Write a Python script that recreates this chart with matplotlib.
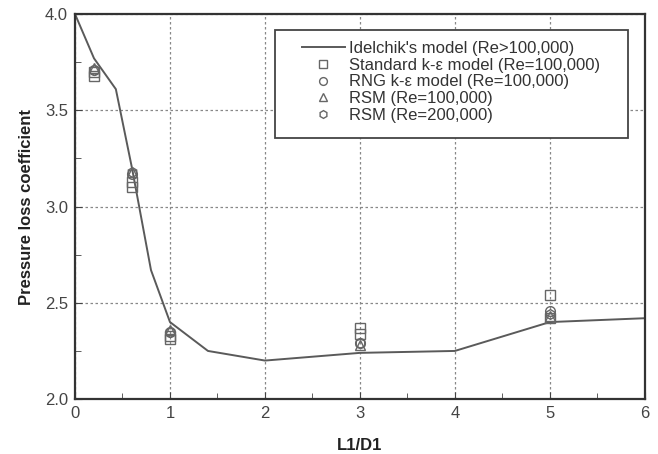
import matplotlib
matplotlib.use('Agg')
import matplotlib.pyplot as plt
from matplotlib.patches import Rectangle
import numpy as np

plt.rcParams['font.family'] = ['Liberation Sans', 'DejaVu Sans']

# Idelchik's model curve
model_x = [0, 0.2, 0.43, 0.6, 0.8, 1.0, 1.4, 2.0, 3.0, 4.0, 5.0, 6.0]
model_y = [4.0, 3.77, 3.61, 3.2, 2.67, 2.4, 2.25, 2.2, 2.24, 2.25, 2.4, 2.42]

# CFD results
std_x = [0.2, 0.2, 0.6, 0.6, 1.0, 1.0, 3.0, 3.0, 5.0, 5.0]
std_y = [3.68, 3.70, 3.10, 3.13, 2.31, 2.33, 2.34, 2.37, 2.54, 2.42]
rng_x = [0.2, 0.6, 1.0, 3.0, 5.0]
rng_y = [3.71, 3.17, 2.35, 2.29, 2.46]
rsm1_x = [0.2, 0.6, 1.0, 3.0, 5.0]
rsm1_y = [3.72, 3.18, 2.36, 2.28, 2.43]
rsm2_x = [0.2, 0.6, 1.0, 3.0, 5.0]
rsm2_y = [3.71, 3.18, 2.35, 2.29, 2.44]

fig = plt.figure(figsize=(6.58, 4.54), dpi=100)
ax = fig.add_axes([0.114, 0.121, 0.866, 0.848])

ax.plot(model_x, model_y, color='#5a5a5a', lw=1.4, label="Idelchik's model (Re>100,000)")
mk = dict(ls='none', mfc='none', mec='#666666', ms=7, mew=1.0)
ax.plot(std_x, std_y, marker='s', label='Standard k-\u03b5 model (Re=100,000)', **mk)
ax.plot(rng_x, rng_y, marker='o', label='RNG k-\u03b5 model (Re=100,000)', **mk)
ax.plot(rsm1_x, rsm1_y, marker='^', label='RSM (Re=100,000)', **mk)
ax.plot(rsm2_x, rsm2_y, marker='h', label='RSM (Re=200,000)', **mk)

ax.set_xlim(0, 6)
ax.set_ylim(2.0, 4.0)
ax.set_xticks(np.arange(0, 7, 1))
ax.set_yticks([2.0, 2.5, 3.0, 3.5, 4.0])
ax.set_xticks(np.arange(0.5, 6, 1), minor=True)
ax.set_yticks([2.25, 2.75, 3.25, 3.75], minor=True)
ax.yaxis.set_major_formatter(matplotlib.ticker.FormatStrFormatter('%.1f'))
ax.tick_params(which='both', direction='in', labelsize=12, colors='#444444', pad=5)
ax.tick_params(which='major', length=5)
ax.tick_params(which='minor', length=4)
ax.grid(True, which='major', ls=(0, (2, 2)), color='#888888', lw=0.9)
for s in ax.spines.values():
    s.set_linewidth(1.6)
    s.set_color('#333333')

ax.set_xlabel('L1/D1', fontsize=12, fontweight='bold', labelpad=12, color='#222222')
ax.set_ylabel('Pressure loss coefficient', fontsize=12, fontweight='bold', labelpad=8,
              color='#222222')

# legend frame drawn separately so padding can differ per side
ax.add_patch(Rectangle((0.351, 0.678), 0.619, 0.280, transform=ax.transAxes,
                       facecolor='white', edgecolor='#444444', lw=1.3, zorder=4))
leg = ax.legend(loc='upper left', bbox_to_anchor=(0.398, 0.930), bbox_transform=ax.transAxes,
                borderaxespad=0, borderpad=0, fontsize=12, markerscale=0.8, frameon=False,
                handlelength=2.6, labelspacing=0.1, handletextpad=0.25)
leg.set_zorder(5)
for t in leg.get_texts():
    t.set_color('#333333')

fig.savefig('out.png', dpi=100)
